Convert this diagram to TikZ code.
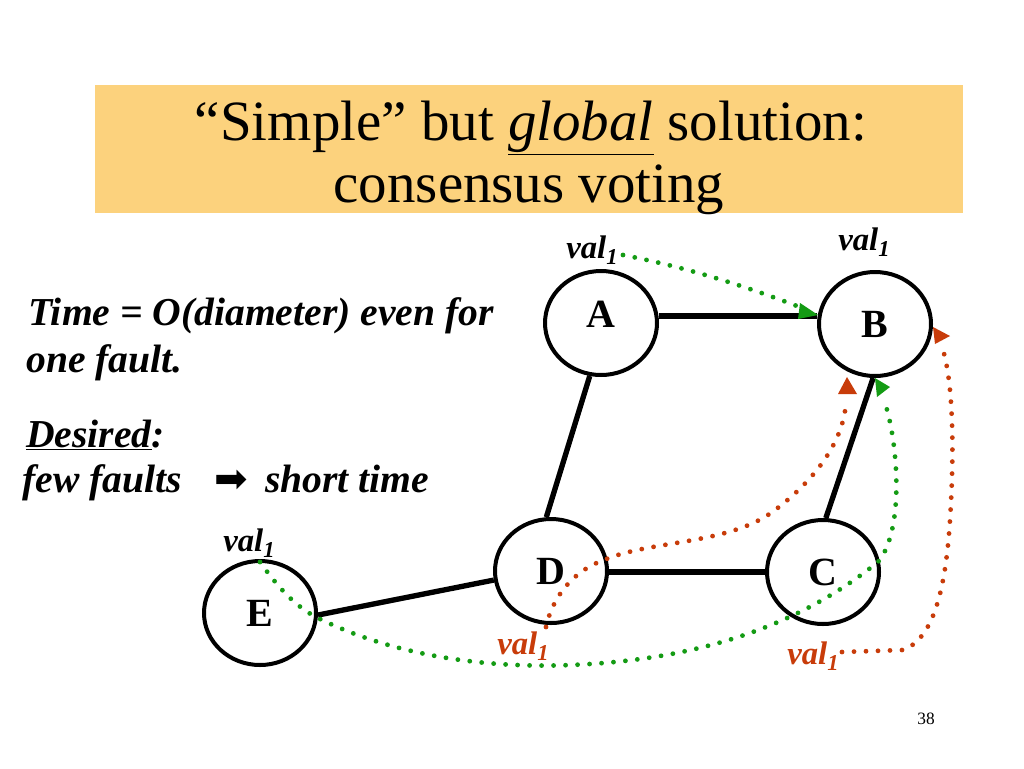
\documentclass[tikz,border=0pt]{standalone}
\usepackage{fontspec}
\setmainfont{Liberation Serif}
\newfontfamily\symfont{DejaVu Sans}
\usetikzlibrary{shapes.geometric,arrows.meta}
\definecolor{titlebg}{RGB}{252,210,125}
\definecolor{dotgreen}{RGB}{20,155,20}
\definecolor{dotred}{RGB}{200,60,10}
\newcommand{\vall}{\textbf{\textit{val\raisebox{-0.45ex}{\fontsize{17}{17}\selectfont 1}}}}
\begin{document}
\begin{tikzpicture}[x=0.75pt,y=-0.75pt,
  vertex/.style={ellipse,draw,line width=3pt,minimum width=84pt,minimum height=78pt,inner sep=0pt,font=\fontsize{30}{30}\selectfont\bfseries},
  edge/.style={line width=4pt},
  dotline/.style={line width=3.6pt,line cap=round,dash pattern=on 0pt off 9pt},
  vallab/.style={font=\fontsize{24.5}{24.5}\selectfont,inner sep=0pt,anchor=base},
  body/.style={font=\fontsize{29.7}{29.7}\selectfont\bfseries\itshape,anchor=base west,inner sep=0pt},
  titletext/.style={font=\fontsize{42.7}{42.7}\selectfont,anchor=base,inner sep=0pt}]
\useasboundingbox (0,0) rectangle (1024,768);
\fill[white] (0,0) rectangle (1024,768);
% title
\node[fill=titlebg,minimum width=651pt,minimum height=96pt,inner sep=0pt] (tbox) at (529,149) {};
\node[titletext] (t1) at (531,140) {“Simple” but \underline{\textit{global}} solution:};
\node[titletext] (t2) at (529,202) {consensus voting};
% left text
\node[body] (l1) at (28,325) {Time = O(diameter) even for};
\node[body] (l2) at (26,372) {one fault.};
\node[body] (l3) at (26,447) {\underline{Desired}:};
\node[body] (l4) at (22,492) {few faults};
\node[font=\symfont\fontsize{30}{30}\selectfont,inner sep=0pt] (arr) at (231,481) {➡};
\node[body] (l5) at (265,492) {short time};
% nodes
\node[vertex] (A) at (601,323) {\raisebox{1ex}{A}};
\node[vertex] (B) at (875,324) {B};
\node[vertex] (C) at (823,572) {C};
\node[vertex] (D) at (551,571) {D};
\node[vertex] (E) at (260,613) {E};
% edges
\draw[edge] (A.east |- 0,316) -- (B.west |- 0,316);
\draw[edge] (A.258) -- (D.95);
\draw[edge] (B.268) -- (C.87);
\draw[edge] (D.east |- 0,572) -- (C.west |- 0,572);
\draw[edge] (E.358) -- (D.189);
% labels
\node[vallab] (vA) at (592,258) {\vall};
\node[vallab] (vB) at (864,250) {\vall};
\node[vallab] (vE) at (249,551) {\vall};
\node[vallab,text=dotred] (vD) at (523,654) {\vall};
\node[vallab,text=dotred] (vC) at (813,664) {\vall};
\node[font=\fontsize{13}{13}\selectfont,anchor=base] (pg) at (926,724) {38};
% dotted arrows
\coordinate (gA) at (623,255);
\coordinate (gE) at (260,562);
\coordinate (rD) at (546,627);
\coordinate (rC) at (842,652);
\draw[dotline,dotgreen] (gA) .. controls (700,270) and (760,292) .. (797,306);
\fill[dotgreen] (800,303) -- (818,315) -- (798,319) -- cycle;
\draw[dotline,dotgreen] (gE) .. controls (280,590) and (295,605) .. (314,616)
   .. controls (400,660) and (500,668) .. (570,665)
   .. controls (700,660) and (800,625) .. (878,562)
   .. controls (905,530) and (898,440) .. (884,400);
\fill[dotgreen] (875,378) -- (890,387) -- (877,397) -- cycle;
\draw[dotline,dotred] (rD) .. controls (553,595) and (575,570) .. (604,560)
   .. controls (650,540) and (730,545) .. (775,510)
   .. controls (815,480) and (845,440) .. (846,400);
\fill[dotred] (847,377) -- (857,394) -- (838,394) -- cycle;
\draw[dotline,dotred] (rC) -- (903,650) .. controls (930,640) and (945,600) .. (950,520)
   .. controls (955,440) and (952,380) .. (943,350);
\fill[dotred] (933,327) -- (950,336) -- (935,344) -- cycle;
\end{tikzpicture}
\end{document}
